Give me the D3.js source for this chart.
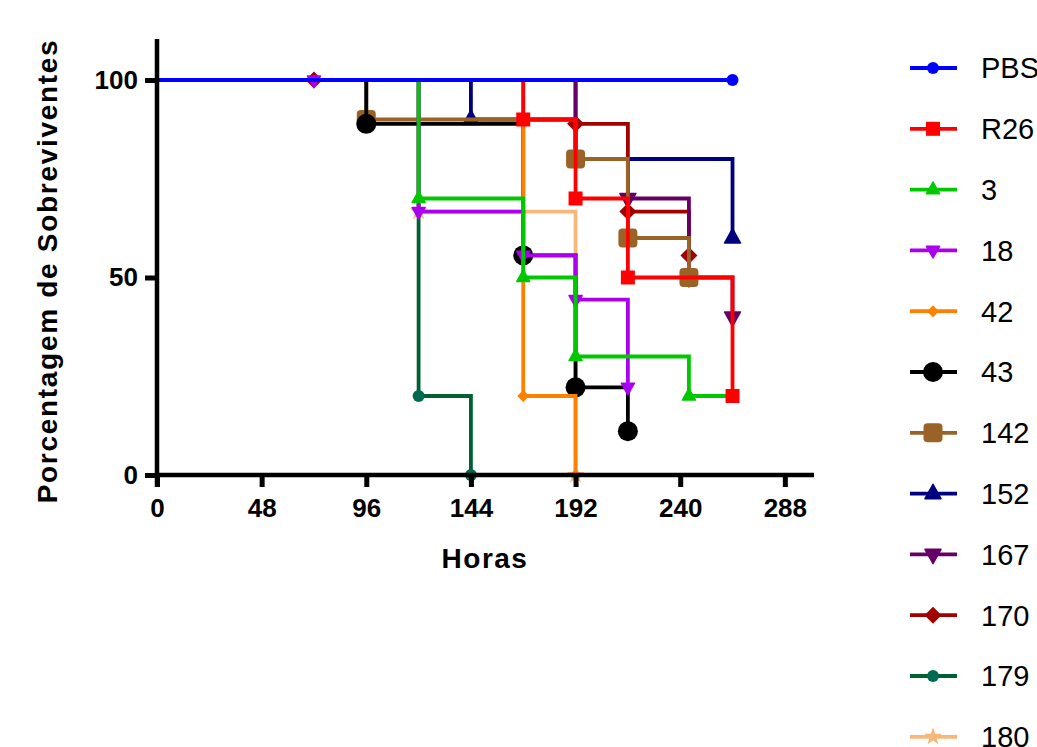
<!DOCTYPE html>
<html><head><meta charset="utf-8">
<script src="https://cdn.jsdelivr.net/npm/d3@7"></script>
<style>body{margin:0;background:#fff}svg{display:block}text{font-family:"Liberation Sans",Arial,sans-serif}</style>
</head><body><svg id="c" width="1037" height="747"></svg>
<script>
// ---- data ----
const seriesNames = ["PBS","R26","3","18","42","43","142","152","167","170","179","180"];
const seriesColors = ["#0000ff","#ff0000","#00c800","#aa00ee","#ff8000","#000000","#996328","#00007f","#660066","#a00000","#006030","#f5b77a"];
const markerColors = ["#0000ff","#ff0000","#00c800","#aa00ee","#ff8000","#000000","#996328","#00007f","#660066","#a00000","#006a50","#f5b77a"];
const markerShapes = ["circle","square","triangle","triangleDown","diamond","circle","roundSquare","triangle","triangleDown","diamond","circle","star"];
const markerSizes = [6,14,13,13,12,10,19,16,16,17,6,13];
// step curves: [hours, % survival]
const stepsPBS  = [[0,100],[264,100]];
const stepsR26  = [[0,100],[168,90],[192,70],[216,50],[264,20]];
const steps3    = [[0,100],[120,70],[168,50],[192,30],[244,20],[264,20]];
const steps18   = [[0,100],[120,66.7],[168,55.6],[192,44.4],[216,22.2]];
const steps42   = [[0,100],[168,20],[192,0]];
const steps43   = [[0,100],[96,88.9],[168,55.6],[192,22.2],[216,11.1]];
const steps142  = [[0,100],[96,90],[192,80],[216,60],[244,50]];
const steps152  = [[0,100],[144,90],[192,80],[264,60]];
const steps167  = [[0,100],[192,80],[216,70],[244,50],[264,40]];
const steps170  = [[0,100],[192,88.9],[216,66.7],[244,55.6]];
const steps179  = [[0,100],[120,20],[144,0]];
const steps180  = [[0,100],[120,66.7],[192,0]];
// marker points (events / censored)
const marksPBS = [[264,100]];
const marksR26 = [[168,90],[192,70],[216,50],[264,20]];
const marks3   = [[120,70],[168,50],[192,30],[244,20]];
const marks18  = [[72,100],[120,66.7],[168,55.6],[192,44.4],[216,22.2]];
const marks42  = [[168,20],[192,0]];
const marks43  = [[96,88.9],[168,55.6],[192,22.2],[216,11.1]];
const marks142 = [[96,90],[192,80],[216,60],[244,50]];
const marks152 = [[144,90],[192,80],[264,60]];
const marks167 = [[192,80],[216,70],[244,50],[264,40]];
const marks170 = [[72,100],[192,88.9],[216,66.7],[244,55.6]];
const marks179 = [[120,20],[144,0]];
const marks180 = [[120,66.7],[192,0]];
const allSteps = [stepsPBS,stepsR26,steps3,steps18,steps42,steps43,steps142,steps152,steps167,steps170,steps179,steps180];
const allMarks = [marksPBS,marksR26,marks3,marks18,marks42,marks43,marks142,marks152,marks167,marks170,marks179,marks180];
const xTicks = [0,48,96,144,192,240,288];
const yTicks = [0,50,100];
const xTitle = "Horas";
const yTitle = "Porcentagem de Sobreviventes";

// ---- chart ----
const svg = d3.select("#c");
const x = d3.scaleLinear().domain([0,300]).range([157,811]);
const y = d3.scaleLinear().domain([0,110]).range([475,40.5]);

function drawMarker(g, shape, size, color, cx, cy){
  if(shape==="circle"){
    g.append("circle").attr("cx",cx).attr("cy",cy).attr("r",size).attr("fill",color);
  } else if(shape==="square"){
    g.append("rect").attr("x",cx-size/2).attr("y",cy-size/2).attr("width",size).attr("height",size).attr("fill",color);
  } else if(shape==="roundSquare"){
    g.append("rect").attr("x",cx-size/2).attr("y",cy-size/2).attr("width",size).attr("height",size).attr("rx",4).attr("fill",color);
  } else if(shape==="triangle"){
    const h=size*0.9;
    g.append("path").attr("d",`M${cx},${cy-h*0.65}L${cx+size/2},${cy+h*0.35}L${cx-size/2},${cy+h*0.35}Z`).attr("fill",color).attr("stroke",color).attr("stroke-width",1.5).attr("stroke-linejoin","round");
  } else if(shape==="triangleDown"){
    const h=size*0.9;
    g.append("path").attr("d",`M${cx},${cy+h*0.65}L${cx+size/2},${cy-h*0.35}L${cx-size/2},${cy-h*0.35}Z`).attr("fill",color).attr("stroke",color).attr("stroke-width",1.5).attr("stroke-linejoin","round");
  } else if(shape==="diamond"){
    const s=size/2;
    g.append("path").attr("d",`M${cx},${cy-s}L${cx+s},${cy}L${cx},${cy+s}L${cx-s},${cy}Z`).attr("fill",color);
  } else if(shape==="star"){
    g.append("path").attr("transform",`translate(${cx},${cy})`).attr("d",d3.symbol(d3.symbolStar,size*size*0.6)()).attr("fill",color);
  }
}

const line = d3.line().x(d=>x(d[0])).y(d=>y(d[1])).curve(d3.curveStepAfter);
const plot = svg.append("g");
// draw last series first so the first one ends on top
for(let i=seriesNames.length-1;i>=0;i--){
  const g = plot.append("g");
  g.append("path").attr("d",line(allSteps[i])).attr("fill","none")
    .attr("stroke",seriesColors[i]).attr("stroke-width",3.8).attr("stroke-linejoin","miter");
  allMarks[i].forEach(p=>drawMarker(g,markerShapes[i],markerSizes[i],markerColors[i],x(p[0]),y(p[1])));
}

// axes
const xAxis = svg.append("g").attr("transform","translate(0,475)")
  .call(d3.axisBottom(x).tickValues(xTicks).tickSize(12).tickSizeOuter(0).tickPadding(16));
xAxis.select(".domain").remove();
xAxis.selectAll(".tick line").attr("stroke","#000").attr("stroke-width",5);
xAxis.selectAll(".tick text").attr("font-size",26).attr("font-weight","bold").attr("fill","#000").attr("dy","0.7em").attr("y",24);
svg.append("line").attr("x1",155).attr("x2",814).attr("y1",475).attr("y2",475).attr("stroke","#000").attr("stroke-width",4.5);

const yAxis = svg.append("g").attr("transform","translate(157,0)")
  .call(d3.axisLeft(y).tickValues(yTicks).tickSize(12).tickSizeOuter(0).tickPadding(8));
yAxis.select(".domain").remove();
yAxis.selectAll(".tick line").attr("stroke","#000").attr("stroke-width",5);
yAxis.selectAll(".tick text").attr("font-size",26).attr("font-weight","bold").attr("fill","#000").attr("x",-19);
svg.append("line").attr("x1",157).attr("x2",157).attr("y1",39).attr("y2",487).attr("stroke","#000").attr("stroke-width",4.5);

svg.append("text").attr("x",485).attr("y",568).attr("text-anchor","middle")
  .attr("font-size",28).attr("font-weight","bold").attr("letter-spacing",1.5).text(xTitle);
svg.append("text").attr("transform","translate(57,271) rotate(-90)").attr("text-anchor","middle")
  .attr("font-size",28).attr("font-weight","bold").attr("letter-spacing",1.7).text(yTitle);

// legend
const leg = svg.append("g");
seriesNames.forEach((n,i)=>{
  const ly = 68 + i*60.8;
  const g = leg.append("g");
  g.append("line").attr("x1",910).attr("x2",957).attr("y1",ly).attr("y2",ly).attr("stroke",seriesColors[i]).attr("stroke-width",3.8);
  drawMarker(g,markerShapes[i],markerSizes[i],markerColors[i],933,ly);
  g.append("text").attr("x",981).attr("y",ly).attr("dy","0.36em").attr("font-size",29).attr("fill","#000").text(n);
});
</script></body></html>
